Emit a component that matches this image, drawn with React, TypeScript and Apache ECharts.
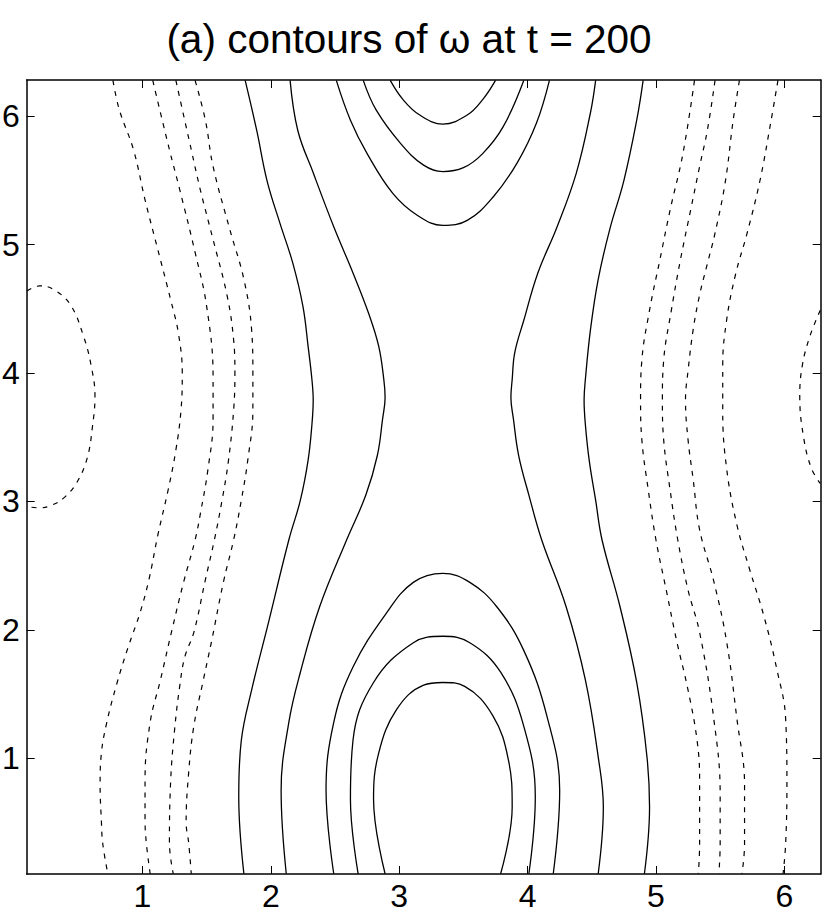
import React, { useEffect, useRef } from "react";
import * as echarts from "echarts";

// Domain: 2*pi/64 .. 2*pi on both axes
const DOMAIN_MIN = (2 * Math.PI) / 64;
const DOMAIN_MAX = 2 * Math.PI;
const xTickValues = [1, 2, 3, 4, 5, 6];
const yTickValues = [1, 2, 3, 4, 5, 6];
const titleText = "(a) contours of ω at t = 200";

// ---- negative (dashed) contours, left group ----
const negLeft1: number[][] = [
  [0.77, 6.28], [0.82, 6.05], [0.93, 5.74], [1.02, 5.35], [1.12, 4.96], [1.22, 4.57],
  [1.28, 4.31], [1.31, 4.0], [1.3, 3.71], [1.26, 3.4], [1.2, 3.09], [1.12, 2.74],
  [1.05, 2.39], [0.98, 2.13], [0.89, 1.87], [0.8, 1.58], [0.72, 1.27], [0.68, 1.04],
  [0.67, 0.79], [0.68, 0.51], [0.69, 0.34], [0.73, 0.1],
];
const negLeft2: number[][] = [
  [1.08, 6.28], [1.21, 5.74], [1.29, 5.43], [1.41, 4.94], [1.5, 4.52], [1.55, 3.97],
  [1.55, 3.64], [1.51, 3.25], [1.45, 2.9], [1.41, 2.7], [1.32, 2.37], [1.23, 2.0],
  [1.14, 1.61], [1.06, 1.28], [1.02, 0.83], [1.02, 0.52], [1.03, 0.34], [1.06, 0.1],
];
const negLeft3: number[][] = [
  [1.26, 6.28], [1.38, 5.74], [1.45, 5.43], [1.55, 5.04], [1.66, 4.6], [1.71, 4.26],
  [1.72, 4.0], [1.71, 3.71], [1.67, 3.32], [1.62, 3.01], [1.56, 2.7], [1.49, 2.39],
  [1.4, 1.98], [1.33, 1.79], [1.29, 1.56], [1.25, 1.22], [1.22, 0.83], [1.21, 0.34], [1.24, 0.1],
];
const negLeft4: number[][] = [
  [1.41, 6.28], [1.49, 5.97], [1.55, 5.61], [1.68, 5.12], [1.79, 4.73], [1.85, 4.34],
  [1.86, 4.0], [1.86, 3.71], [1.82, 3.32], [1.77, 3.01], [1.71, 2.7], [1.63, 2.37],
  [1.54, 1.92], [1.47, 1.59], [1.4, 1.25], [1.36, 0.89], [1.34, 0.5], [1.36, 0.34], [1.38, 0.1],
];
const negLeftEllipse: number[][] = [
  [0.1, 4.64], [0.2, 4.68], [0.31, 4.65], [0.44, 4.53], [0.54, 4.29], [0.6, 4.06],
  [0.63, 3.82], [0.61, 3.58], [0.57, 3.34], [0.49, 3.15], [0.39, 3.03], [0.29, 2.97],
  [0.2, 2.95], [0.1, 2.96],
];
// ---- negative (dashed) contours, right group ----
const negRight1: number[][] = [
  [5.95, 6.28], [5.89, 5.93], [5.81, 5.5], [5.71, 5.09], [5.62, 4.77], [5.55, 4.41],
  [5.52, 4.06], [5.52, 3.7], [5.55, 3.26], [5.63, 2.82], [5.73, 2.47], [5.84, 2.11],
  [5.94, 1.7], [6.01, 1.31], [6.02, 0.79], [6.01, 0.33], [5.99, 0.1],
];
const negRight2: number[][] = [
  [5.65, 6.28], [5.6, 5.96], [5.54, 5.49], [5.46, 5.09], [5.4, 4.85], [5.34, 4.61],
  [5.29, 4.34], [5.25, 4.02], [5.23, 3.79], [5.25, 3.48], [5.29, 3.17], [5.34, 2.78],
  [5.45, 2.38], [5.55, 1.91], [5.63, 1.31], [5.69, 0.79], [5.69, 0.33], [5.67, 0.1],
];
const negRight3: number[][] = [
  [5.46, 6.28], [5.4, 5.89], [5.34, 5.61], [5.27, 5.27], [5.19, 4.88], [5.12, 4.49],
  [5.06, 4.1], [5.05, 3.79], [5.06, 3.48], [5.11, 3.09], [5.17, 2.7], [5.25, 2.31],
  [5.34, 1.98], [5.45, 1.31], [5.5, 0.72], [5.5, 0.33], [5.49, 0.1],
];
const negRight4: number[][] = [
  [5.3, 6.28], [5.21, 5.71], [5.11, 5.27], [5.03, 4.88], [4.95, 4.49], [4.89, 4.1],
  [4.88, 3.79], [4.89, 3.48], [4.94, 3.09], [5.0, 2.7], [5.08, 2.31], [5.16, 1.92],
  [5.25, 1.53], [5.32, 1.14], [5.34, 0.83], [5.34, 0.52], [5.34, 0.33], [5.33, 0.1],
];
const negRightEllipse: number[][] = [
  [6.28, 4.49], [6.2, 4.29], [6.14, 4.06], [6.12, 3.82], [6.15, 3.5], [6.21, 3.26], [6.28, 3.14],
];

// ---- positive (solid) contours ----
const posLeft1: number[][] = [
  [1.8, 6.28], [1.89, 5.89], [1.97, 5.5], [2.07, 5.17], [2.17, 4.86], [2.25, 4.52],
  [2.29, 4.21], [2.32, 3.95], [2.33, 3.79], [2.32, 3.6], [2.29, 3.32], [2.23, 3.01],
  [2.14, 2.7], [1.98, 2.05], [1.85, 1.53], [1.77, 1.14], [1.75, 0.7], [1.79, 0.1],
];
const posLeft2: number[][] = [
  [2.15, 6.28], [2.21, 5.89], [2.33, 5.56], [2.49, 5.14], [2.64, 4.78], [2.76, 4.47],
  [2.84, 4.21], [2.88, 3.95], [2.89, 3.81], [2.87, 3.64], [2.83, 3.36], [2.74, 3.05],
  [2.59, 2.7], [2.38, 2.18], [2.23, 1.67], [2.14, 1.28], [2.08, 0.75], [2.12, 0.1],
];
const posRight2: number[][] = [
  [4.53, 6.28], [4.49, 6.03], [4.38, 5.56], [4.23, 5.14], [4.08, 4.78], [3.97, 4.41],
  [3.9, 4.16], [3.88, 3.95], [3.87, 3.81], [3.89, 3.64], [3.93, 3.36], [4.01, 3.05],
  [4.11, 2.7], [4.3, 2.18], [4.45, 1.61], [4.55, 1.01], [4.59, 0.62], [4.55, 0.1],
];
const posRight1: number[][] = [
  [4.9, 6.28], [4.85, 5.97], [4.75, 5.5], [4.64, 5.12], [4.55, 4.73], [4.49, 4.34],
  [4.45, 3.95], [4.44, 3.79], [4.45, 3.6], [4.48, 3.32], [4.53, 3.01], [4.58, 2.7],
  [4.72, 2.18], [4.85, 1.59], [4.93, 1.01], [4.95, 0.62], [4.91, 0.1],
];
const posTop1: number[][] = [
  [2.51, 6.28], [2.62, 5.97], [2.75, 5.71], [2.95, 5.4], [3.14, 5.23], [3.34, 5.15],
  [3.53, 5.19], [3.73, 5.37], [3.92, 5.64], [4.07, 5.95], [4.17, 6.28],
];
const posTop2: number[][] = [
  [2.72, 6.28], [2.82, 6.05], [3.01, 5.79], [3.19, 5.62], [3.34, 5.57], [3.5, 5.6],
  [3.65, 5.71], [3.81, 5.92], [3.97, 6.28],
];
const posTop3: number[][] = [
  [2.93, 6.28], [3.03, 6.13], [3.16, 6.01], [3.34, 5.94], [3.53, 6.01], [3.65, 6.13], [3.75, 6.28],
];
const posBottom1: number[][] = [
  [2.49, 0.1], [2.43, 0.75], [2.49, 1.28], [2.64, 1.71], [2.9, 2.13], [3.11, 2.37],
  [3.34, 2.44], [3.55, 2.37], [3.76, 2.18], [3.97, 1.84], [4.15, 1.33], [4.25, 0.75], [4.2, 0.1],
];
const posBottom2: number[][] = [
  [2.68, 0.1], [2.62, 0.68], [2.64, 1.14], [2.8, 1.59], [3.11, 1.9], [3.34, 1.95],
  [3.55, 1.9], [3.79, 1.67], [3.97, 1.25], [4.06, 0.7], [4.01, 0.1],
];
const posBottom3: number[][] = [
  [2.89, 0.1], [2.8, 0.68], [2.84, 1.04], [2.98, 1.38], [3.19, 1.57], [3.34, 1.59],
  [3.51, 1.56], [3.73, 1.33], [3.85, 0.99], [3.88, 0.62], [3.79, 0.1],
];

const dashedContours = [
  negLeft1, negLeft2, negLeft3, negLeft4, negLeftEllipse,
  negRight1, negRight2, negRight3, negRight4, negRightEllipse,
];
const solidContours = [
  posLeft1, posLeft2, posRight2, posRight1,
  posTop1, posTop2, posTop3, posBottom1, posBottom2, posBottom3,
];

const FONT = "'Liberation Sans', Arial, Helvetica, sans-serif";

export default function App() {
  const ref = useRef<HTMLDivElement>(null);
  useEffect(() => {
    if (!ref.current) return;
    const chart = echarts.init(ref.current, undefined, { renderer: "svg" });

    const axisCommon = (show: boolean, ticks: number[], margin: number) => ({
      type: "value" as const,
      min: DOMAIN_MIN,
      max: DOMAIN_MAX,
      axisLine: { show: true, onZero: false, lineStyle: { color: "#000", width: 1.5 } },
      axisTick: {
        show: true,
        inside: true,
        length: 8,
        customValues: ticks,
        lineStyle: { color: "#000", width: 1 },
      },
      axisLabel: {
        show,
        customValues: ticks,
        fontSize: 32,
        color: "#000",
        fontFamily: FONT,
        margin,
      },
      splitLine: { show: false },
    });

    const series: any[] = [];
    solidContours.forEach((d) =>
      series.push({
        type: "line",
        data: d,
        smooth: 0.4,
        showSymbol: false,
        symbol: "none",
        silent: true,
        lineStyle: { color: "#000", width: 1.3, type: "solid" },
      })
    );
    dashedContours.forEach((d) =>
      series.push({
        type: "line",
        data: d,
        smooth: 0.4,
        showSymbol: false,
        symbol: "none",
        silent: true,
        lineStyle: { color: "#000", width: 1.2, type: [5, 6] },
      })
    );

    chart.setOption({
      animation: false,
      backgroundColor: "#fff",
      grid: {
        left: 26.7,
        top: 80,
        width: 794,
        height: 794,
        containLabel: false,
        outerBoundsMode: "none",
      },
      xAxis: [
        { ...axisCommon(true, xTickValues, 6), position: "bottom" },
        { ...axisCommon(false, xTickValues, 6), position: "top" },
      ],
      yAxis: [
        { ...axisCommon(true, yTickValues, 7), position: "left" },
        { ...axisCommon(false, yTickValues, 7), position: "right" },
      ],
      graphic: [
        {
          type: "text",
          x: 409,
          y: 39,
          style: {
            text: titleText,
            fontSize: 40.5,
            fontFamily: FONT,
            fill: "#000",
            align: "center",
            verticalAlign: "middle",
          },
        },
      ],
      series,
    });
    return () => chart.dispose();
  }, []);
  return (
    <div
      ref={ref}
      style={{ position: "absolute", left: 0, top: 0, width: 830, height: 923 }}
    />
  );
}
